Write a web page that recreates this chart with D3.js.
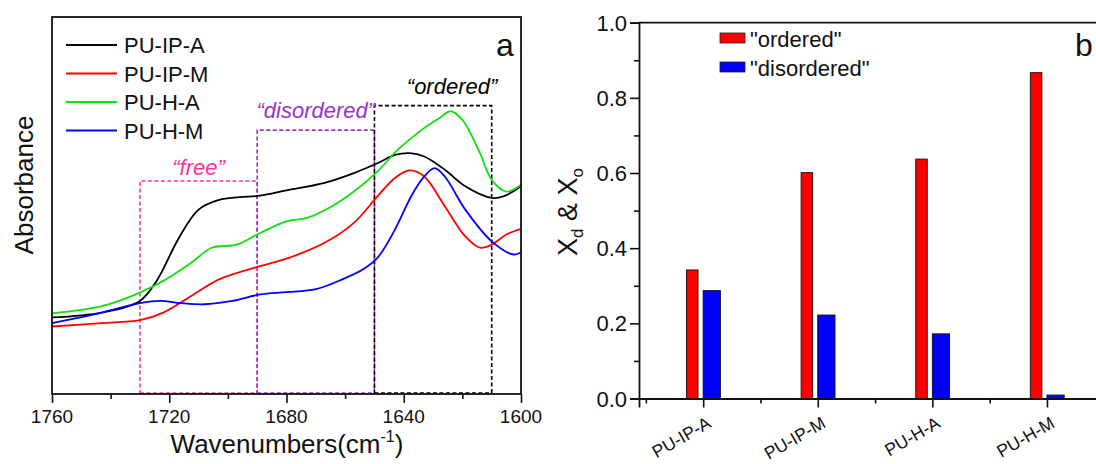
<!DOCTYPE html>
<html>
<head>
<meta charset="utf-8">
<script src="https://cdn.jsdelivr.net/npm/d3@7"></script>
<style>
  body { margin: 0; background: #fff; }
  svg { display: block; font-family: "Liberation Sans", Arial, sans-serif; }
</style>
</head>
<body>
<div id="chart"></div>
<script>
// ---- panel a: FTIR spectra, [wavenumber, relative absorbance] ----
const seriesNames = ["PU-IP-A", "PU-IP-M", "PU-H-A", "PU-H-M"];
const seriesColors = ["#000000", "#ff0000", "#10e010", "#0000ff"];

const ipA = [[1760,0.203],[1743,0.216],[1730,0.247],[1724,0.304],[1717,0.41],[1710,0.489],
  [1703,0.515],[1696,0.522],[1689,0.526],[1680,0.54],[1667,0.56],[1657,0.586],[1649,0.612],
  [1643,0.634],[1638,0.639],[1633,0.63],[1626,0.595],[1619,0.551],[1610,0.52],[1606,0.524],[1600,0.551]];
const ipM = [[1760,0.179],[1743,0.188],[1730,0.196],[1722,0.216],[1712.5,0.26],[1703,0.304],
  [1689,0.339],[1680,0.359],[1667,0.401],[1657,0.454],[1649,0.524],[1643,0.573],[1638,0.593],
  [1633,0.577],[1626,0.498],[1619,0.418],[1614,0.388],[1610,0.396],[1605,0.423],[1600,0.438]];
const hA = [[1760,0.214],[1743,0.233],[1730,0.269],[1722,0.3],[1712.5,0.348],[1705.5,0.388],
  [1697,0.396],[1689,0.427],[1680,0.458],[1673,0.467],[1664.5,0.498],[1657,0.537],[1649,0.59],
  [1642,0.648],[1634,0.70],[1628,0.731],[1624,0.75],[1620,0.727],[1614,0.639],[1610,0.568],
  [1605,0.537],[1600,0.555]];
const hM = [[1760,0.188],[1743,0.216],[1730,0.241],[1723,0.247],[1716,0.241],[1708,0.238],
  [1698.5,0.247],[1689,0.264],[1680,0.27],[1670,0.278],[1661,0.304],[1654,0.33],[1649,0.361],
  [1643,0.436],[1637.5,0.524],[1633,0.577],[1629.5,0.599],[1626,0.577],[1619,0.489],[1610,0.405],
  [1602.5,0.37],[1600,0.376]];
const spectra = [ipA, ipM, hA, hM];

const xTicksA = [1760, 1720, 1680, 1640, 1600];

// integration regions
const regionLabels = ["\u201cfree\u201d", "\u201cdisordered\u201d", "\u201cordered\u201d"];
const regionFrom = [1730, 1690, 1650];
const regionTo = [1690, 1650, 1610];
const regionTop = [0.565, 0.70, 0.765];
const regionColors = ["#ff3399", "#9933cc", "#000000"];

// ---- panel b: fractions ----
const samples = ["PU-IP-A", "PU-IP-M", "PU-H-A", "PU-H-M"];
const ordered = [0.342, 0.601, 0.637, 0.867];
const disordered = [0.287, 0.222, 0.172, 0.009];
const yTicksB = [0, 0.2, 0.4, 0.6, 0.8, 1.0];

const W = 1096, H = 464;
const svg = d3.select("#chart").append("svg").attr("width", W).attr("height", H);

// ================= panel a =================
const xA = d3.scaleLinear().domain([1760, 1600]).range([52, 521]);
const yA = d3.scaleLinear().domain([0, 1]).range([394, 17]);

const ga = svg.append("g");

// regions (dashed boxes)
regionLabels.forEach((lab, i) => {
  const x0 = xA(regionFrom[i]), x1 = xA(regionTo[i]), yt = yA(regionTop[i]);
  ga.append("path")
    .attr("d", `M${x0},${yA(0)}V${yt}H${x1}V${yA(0)}`)
    .attr("fill", "none")
    .attr("stroke", regionColors[i])
    .attr("stroke-width", 1.6)
    .attr("stroke-dasharray", "4,2.5");
  ga.append("line")
    .attr("x1", x0).attr("x2", x1).attr("y1", yA(0) - 1).attr("y2", yA(0) - 1)
    .attr("stroke", regionColors[i]).attr("stroke-width", 1.6).attr("stroke-dasharray", "4,2.5");
});
const labelDx = [0, 0, 19], labelDy = [-6, -12, -12];
regionLabels.forEach((lab, i) => {
  ga.append("text")
    .attr("x", (xA(regionFrom[i]) + xA(regionTo[i])) / 2 + labelDx[i])
    .attr("y", yA(regionTop[i]) + labelDy[i])
    .attr("text-anchor", "middle")
    .attr("font-style", "italic")
    .attr("font-size", 22)
    .attr("fill", regionColors[i])
    .text(lab);
});

// curves
const line = d3.line()
  .x(d => xA(d[0]))
  .y(d => yA(d[1]))
  .curve(d3.curveCatmullRom.alpha(0.5));

spectra.forEach((s, i) => {
  ga.append("path")
    .datum(s)
    .attr("d", line)
    .attr("fill", "none")
    .attr("stroke", seriesColors[i])
    .attr("stroke-width", 1.8);
});

// frame + axis
ga.append("rect")
  .attr("x", xA(1760)).attr("y", yA(1))
  .attr("width", xA(1600) - xA(1760)).attr("height", yA(0) - yA(1))
  .attr("fill", "none").attr("stroke", "#111").attr("stroke-width", 1.8);

const axA = ga.append("g")
  .attr("transform", `translate(0,${yA(0)})`)
  .call(d3.axisBottom(xA).tickValues(d3.range(1760, 1599, -20)).tickSize(9).tickFormat(""));
axA.select(".domain").remove();
axA.selectAll(".tick line").attr("stroke", "#111").attr("stroke-width", 1.6)
  .attr("y2", d => d % 40 === 0 ? 9 : 5);
xTicksA.forEach(t => {
  ga.append("text")
    .attr("x", xA(t)).attr("y", 423)
    .attr("text-anchor", "middle")
    .attr("font-size", 19)
    .attr("fill", "#111")
    .text(t);
});

ga.append("text")
  .attr("x", 287).attr("y", 453)
  .attr("text-anchor", "middle")
  .attr("font-size", 26)
  .attr("fill", "#111")
  .text("Wavenumbers(cm")
  .append("tspan").attr("font-size", 16).attr("dy", -11).text("-1")
  .select(function() { return this.parentNode; })
  .append("tspan").attr("dy", 11).text(")");

ga.append("text")
  .attr("transform", "translate(33,185) rotate(-90)")
  .attr("text-anchor", "middle")
  .attr("font-size", 26)
  .attr("fill", "#111")
  .text("Absorbance");

// legend
seriesNames.forEach((n, i) => {
  const ly = 45 + i * 28.5;
  ga.append("line")
    .attr("x1", 66).attr("x2", 117).attr("y1", ly).attr("y2", ly)
    .attr("stroke", seriesColors[i]).attr("stroke-width", 2);
  ga.append("text")
    .attr("x", 124).attr("y", ly + 8)
    .attr("font-size", 22)
    .attr("fill", "#111")
    .text(n);
});

ga.append("text")
  .attr("x", 496).attr("y", 56)
  .attr("font-size", 32)
  .attr("fill", "#111")
  .text("a");

// ================= panel b =================
const xB = d3.scaleLinear().domain([0.44, 4.56]).range([639, 639 + 4.12 * 114.6]);
const yB = d3.scaleLinear().domain([0, 1]).range([398.5, 22.7]);
const unit = xB(2) - xB(1);

const gb = svg.append("g");

// bars
samples.forEach((s, i) => {
  const c = xB(i + 1);
  gb.append("rect")
    .attr("x", c - 0.145 * unit).attr("y", yB(ordered[i]))
    .attr("width", 0.1 * unit).attr("height", yB(0) - yB(ordered[i]))
    .attr("fill", "#ff0000").attr("stroke", "#2a1010").attr("stroke-width", 1);
  gb.append("rect")
    .attr("x", c).attr("y", yB(disordered[i]))
    .attr("width", 0.15 * unit).attr("height", yB(0) - yB(disordered[i]))
    .attr("fill", "#0000ff").attr("stroke", "#10102a").attr("stroke-width", 1);
});

// top frame
gb.append("line")
  .attr("x1", xB(0.44)).attr("x2", W).attr("y1", yB(1)).attr("y2", yB(1))
  .attr("stroke", "#111").attr("stroke-width", 1.8);

// y axis
const ayB = gb.append("g")
  .attr("transform", `translate(${xB(0.44)},0)`)
  .call(d3.axisLeft(yB).tickValues(d3.range(0, 1.01, 0.1)).tickSize(9).tickFormat(""));
ayB.select(".domain").attr("stroke", "#111").attr("stroke-width", 1.8);
ayB.selectAll(".tick line").attr("stroke", "#111").attr("stroke-width", 1.6)
  .attr("x2", (d, i) => i % 2 === 0 ? -9 : -5);
yTicksB.forEach(t => {
  gb.append("text")
    .attr("x", xB(0.44) - 12).attr("y", yB(t) + 8)
    .attr("text-anchor", "end")
    .attr("font-size", 22)
    .attr("fill", "#111")
    .text(t.toFixed(1));
});

// x axis
const axB = gb.append("g")
  .attr("transform", `translate(0,${yB(0)})`)
  .call(d3.axisBottom(xB).tickValues([0.5, 1, 1.5, 2, 2.5, 3, 3.5, 4, 4.5]).tickSize(9).tickFormat(""));
axB.select(".domain").attr("stroke", "#111").attr("stroke-width", 1.8);
axB.selectAll(".tick line").attr("stroke", "#111").attr("stroke-width", 1.6)
  .attr("y2", d => Number.isInteger(d) ? 9 : 5);
samples.forEach((s, i) => {
  gb.append("text")
    .attr("transform", `translate(${xB(i + 1) + 9},${yB(0) + 28}) rotate(-30)`)
    .attr("text-anchor", "end")
    .attr("font-size", 17.5)
    .attr("fill", "#111")
    .text(s);
});

// y title
const yt = gb.append("text")
  .attr("transform", "translate(577,212) rotate(-90)")
  .attr("text-anchor", "middle")
  .attr("font-size", 27)
  .attr("fill", "#111");
yt.append("tspan").text("X");
yt.append("tspan").attr("font-size", 17).attr("dy", 6).text("d");
yt.append("tspan").attr("dy", -6).text(" & X");
yt.append("tspan").attr("font-size", 17).attr("dy", 6).text("o");

// legend
const legB = [["\"ordered\"", "#ff0000"], ["\"disordered\"", "#0000ff"]];
legB.forEach((d, i) => {
  const ly = 33 + i * 29;
  gb.append("rect")
    .attr("x", 720).attr("y", ly).attr("width", 25).attr("height", 10)
    .attr("fill", d[1]).attr("stroke", "#222").attr("stroke-width", 0.8);
  gb.append("text")
    .attr("x", 750).attr("y", ly + 14)
    .attr("font-size", 22)
    .attr("fill", "#111")
    .text(d[0]);
});

gb.append("text")
  .attr("x", 1075).attr("y", 56)
  .attr("font-size", 32)
  .attr("fill", "#111")
  .text("b");
</script>
</body>
</html>
